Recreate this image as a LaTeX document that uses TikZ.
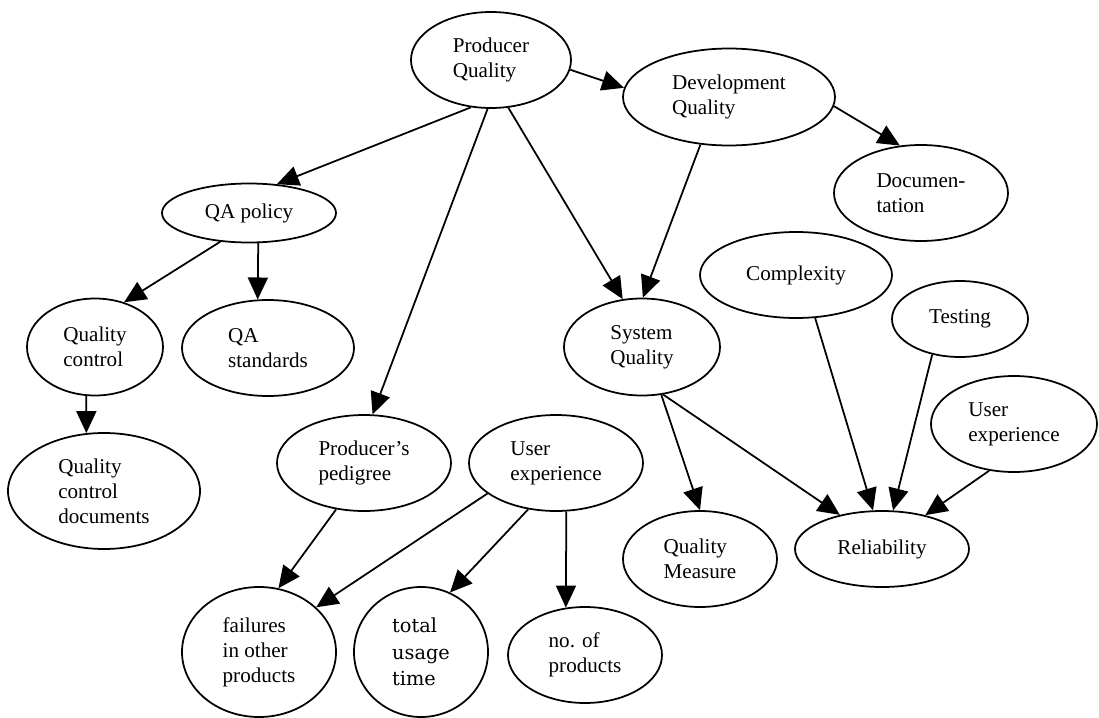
\documentclass[tikz,border=0pt]{standalone}
\usepackage{fontspec}
\setmainfont{Liberation Serif}
\newfontfamily\usagefont{DejaVu Serif}
\usetikzlibrary{arrows.meta,shapes.geometric}

\begin{document}
\begin{tikzpicture}[x=0.2mm,y=-0.2mm,
    bubble/.style={draw,ellipse,line width=1pt,inner sep=0pt,align=left,
        font=\fontsize{12}{14.2}\selectfont},
    dims/.style 2 args={minimum width=#1*0.2mm,minimum height=#2*0.2mm},
    link/.style={line width=1pt,-{Triangle[length=4.4mm,width=4mm]}}]
    \useasboundingbox (0,0) rectangle (1099,718);

    % Top of the tree
    \node[bubble,dims={160}{96}] (pq) at (491,60) {Producer\\Quality};
    \node[bubble,dims={212}{97}] (devq) at (729,97) {Development\\Quality};
    \node[bubble,dims={174}{96}] (doc) at (921,193) {Documen-\\tation};

    % QA branch
    \node[bubble,dims={174}{59}] (qap) at (249,213) {QA policy};
    \node[bubble,dims={136}{97}] (qc) at (95,347) {Quality\\control};
    \node[bubble,dims={172}{96}] (qas) at (268,348) {QA\\standards};
    \node[bubble,dims={192}{116}] (qcd) at (104,491) {Quality\\control\\documents};

    % Pedigree and user experience
    \node[bubble,dims={174}{96}] (ped) at (364,463) {Producer's\\pedigree};
    \node[bubble,dims={174}{96}] (uxa) at (556,463) {User\\experience};
    \node[bubble,dims={154}{130}] (fail) at (259,652) {failures\\in other\\products};
    \node[bubble,dims={134}{130},font=\usagefont\fontsize{11}{15}\selectfont]
        (usage) at (421,652) {total\\usage\\time};
    \node[bubble,dims={154}{96}] (nprod) at (585,655) {no. of\\products};

    % System quality and reliability
    \node[bubble,dims={156}{97}] (sysq) at (642,347) {System\\Quality};
    \node[bubble,dims={192}{86}] (cplx) at (796,275) {Complexity};
    \node[bubble,dims={136}{76}] (test) at (960,319) {Testing};
    \node[bubble,dims={166}{96}] (uxb) at (1014,424) {User\\experience};
    \node[bubble,dims={154}{96}] (qm) at (700,559) {Quality\\Measure};
    \node[bubble,dims={174}{76}] (rel) at (882,549) {Reliability};

    % Arrows
    \draw[link] (pq.247) -- (qap.46);
    \draw[link] (pq.266) -- (ped.80);
    \draw[link] (pq.290) -- (sysq.112);
    \draw[link] (pq.353) -- (devq.175);
    \draw[link] (devq.239) -- (sysq.89);
    \draw[link] (devq.355) -- (doc.114);
    \draw[link] (qap.225) -- (qc.57);
    \draw[link] (qap.287) -- (qas.102);
    \draw[link] (qc.260) -- (qcd.107);
    \draw[link] (ped.239) -- (fail.73);
    \draw[link] (uxa.204) -- (fail.38);
    \draw[link] (uxa.239) -- (usage.64);
    \draw[link] (uxa.282) -- (nprod.112);
    \draw[link] (sysq.292) -- (qm.90);
    \draw[link] (sysq.294) -- (rel.141);
    \draw[link] (cplx.294) -- (rel.103);
    \draw[link] (test.232) -- (rel.74);
    \draw[link] (uxb.242) -- (rel.38);
\end{tikzpicture}
\end{document}
